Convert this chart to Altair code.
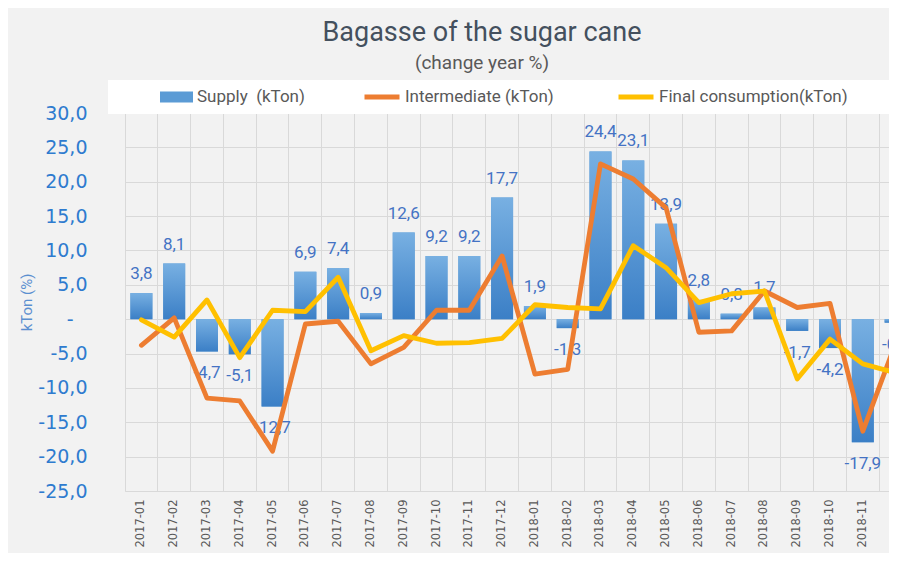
import altair as alt
import pandas as pd

months = ["2017-01", "2017-02", "2017-03", "2017-04", "2017-05", "2017-06",
          "2017-07", "2017-08", "2017-09", "2017-10", "2017-11", "2017-12",
          "2018-01", "2018-02", "2018-03", "2018-04", "2018-05", "2018-06",
          "2018-07", "2018-08", "2018-09", "2018-10", "2018-11", "2018-12"]
supply = [3.8, 8.1, -4.7, -5.1, -12.7, 6.9, 7.4, 0.9, 12.6, 9.2, 9.2, 17.7,
          1.9, -1.3, 24.4, 23.1, 13.9, 2.8, 0.8, 1.7, -1.7, -4.2, -17.9, -0.5]
intermediate = [-3.8, 0.2, -11.5, -11.9, -19.2, -0.7, -0.3, -6.5, -4.1, 1.3, 1.3, 9.2,
                -8.0, -7.3, 22.6, 20.4, 16.2, -1.9, -1.7, 4.1, 1.7, 2.3, -16.3, -3.5]
final = [-0.1, -2.6, 2.8, -5.6, 1.3, 1.1, 6.1, -4.6, -2.4, -3.5, -3.4, -2.8,
         2.1, 1.7, 1.5, 10.7, 7.5, 2.4, 3.7, 4.1, -8.7, -2.9, -6.5, -7.8]
y_ticks = [-25, -20, -15, -10, -5, 0, 5, 10, 15, 20, 25, 30]

SUPPLY = "Supply \u00a0(kTon)"
INTER = "Intermediate (kTon)"
FINAL = "Final consumption(kTon)"

df = pd.DataFrame({"month": months, "supply": supply,
                   "intermediate": intermediate, "final": final})

GRID = "#d9d9d9"
FONT = "Roboto"

xscale = alt.Scale(domain=months, range=[0, 787], paddingInner=0, paddingOuter=0)
yscale = alt.Scale(domain=[-25, 30], nice=False, zero=False)

xaxis = alt.Axis(title=None, labelAngle=270, labelFont="DejaVu Sans", labelFontSize=11.5,
                 labelColor="#595959", ticks=False, domainColor=GRID, grid=True,
                 gridColor=GRID, gridWidth=1, bandPosition=0, labelPadding=8,
                 labelOverlap=False)
yaxis = alt.Axis(values=y_ticks, tickCount=12,
                 labelExpr="abs(datum.value) < 0.001 ? '-\u2800' : (datum.value < 0 ? '-' : '') + replace(format(abs(datum.value), '.1f'), '.', ',')",
                 labelFont="DejaVu Sans", labelFontSize=19, labelColor="#2e7bcf",
                 labelPadding=38, labelOverlap=False, ticks=False, domain=False,
                 grid=True, gridColor=GRID,
                 title="kTon (%)", titleFont=FONT, titleFontSize=15, titleColor="#5b8fd0",
                 titleFontWeight="normal", titlePadding=3)

X = alt.X("month:N", sort=months, scale=xscale, axis=xaxis)

def Y(field):
    return alt.Y(field + ":Q", scale=yscale, axis=yaxis)

base = alt.Chart(df)

band = alt.Chart(pd.DataFrame({"k": [0]})).mark_rect(color="white").encode(
    x=alt.value(-17), x2=alt.value(790), y=alt.value(-33), y2=alt.value(1))

bars = base.transform_calculate(s="'" + SUPPLY + "'").mark_bar(
    width=alt.RelativeBandSize(0.67)).encode(
    x=X,
    y=Y("supply"),
    fill=alt.Fill("s:N", scale=alt.Scale(domain=[SUPPLY], range=["#5b9bd5"]),
                  legend=alt.Legend(title=None, orient="none", legendX=35, legendY=-32.5,
                                    symbolType="M-1,-0.33H1V0.33H-1Z", symbolSize=1089,
                                    symbolStrokeWidth=0, labelFont=FONT, labelFontSize=17,
                                    labelColor="#595959", labelOffset=4, padding=0,
                                    labelLimit=300)))

grad = alt.Gradient(gradient="linear",
                    stops=[alt.GradientStop(color="#78b0e2", offset=0),
                           alt.GradientStop(color="#3b7fc6", offset=1)],
                    x1=0, x2=0, y1=0, y2=1)
bars_g = base.mark_bar(width=alt.RelativeBandSize(0.67), fill=grad).encode(
    x=X, y=Y("supply"))

lbl_expr = "(datum.supply < 0 ? '-' : '') + replace(format(abs(datum.supply), '.1f'), '.', ',')"
txt_pos = base.transform_filter("datum.supply >= 0").transform_calculate(lbl=lbl_expr).mark_text(
    dy=-14, baseline="alphabetic", font=FONT, fontSize=17, color="#4472c4").encode(
    x=X, y=Y("supply"), text="lbl:N")
txt_neg = base.transform_filter("datum.supply < 0").transform_calculate(lbl=lbl_expr).mark_text(
    dy=27, baseline="alphabetic", font=FONT, fontSize=17, color="#4472c4").encode(
    x=X, y=Y("supply"), text="lbl:N")

stroke_scale = alt.Scale(domain=[INTER, FINAL], range=["#ed7d31", "#ffc000"])
stroke_legend = alt.Legend(title=None, orient="none", direction="horizontal",
                           legendX=237, legendY=-36, symbolType="stroke",
                           symbolSize=1225, symbolStrokeWidth=5, labelFont=FONT,
                           labelFontSize=17, labelColor="#595959", labelOffset=3,
                           columnPadding=54, padding=0, labelLimit=300)

line_i = base.transform_calculate(s="'" + INTER + "'").mark_line(
    strokeWidth=4.8, strokeJoin="round", strokeCap="round").encode(
    x=X, y=Y("intermediate"),
    stroke=alt.Stroke("s:N", scale=stroke_scale, legend=stroke_legend))
line_f = base.transform_calculate(s="'" + FINAL + "'").mark_line(
    strokeWidth=4.8, strokeJoin="round", strokeCap="round").encode(
    x=X, y=Y("final"),
    stroke=alt.Stroke("s:N", scale=stroke_scale, legend=stroke_legend))

chart = alt.layer(band, bars, bars_g, txt_pos, txt_neg, line_i, line_f).properties(
    width=764, height=378,
    autosize=alt.AutoSizeParams(type="none"),
    padding={"left": 117, "top": 105, "right": 0, "bottom": 62},
    title=alt.Title("Bagasse of the sugar cane", subtitle="(change year %)",
                    font=FONT, fontSize=27, fontWeight="normal", color="#44505e",
                    subtitleFont=FONT, subtitleFontSize=19, subtitleColor="#595959",
                    anchor="middle", dx=-25, offset=3, subtitlePadding=7)
).configure(background="#f2f2f2").configure_view(stroke="transparent")

chart.save("out.html", embed_options={"renderer": "svg", "actions": False})
